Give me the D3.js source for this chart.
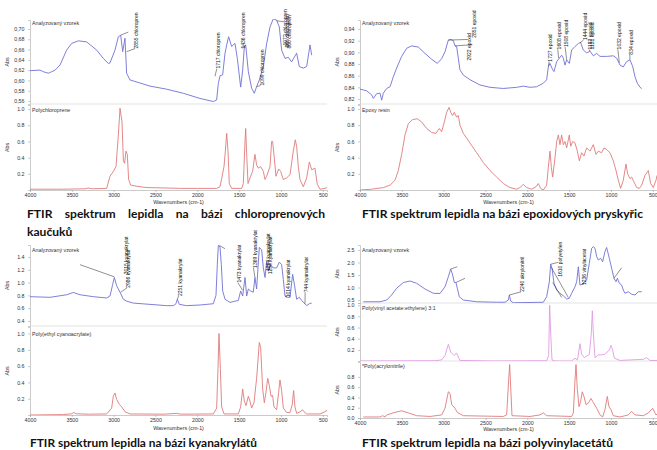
<!DOCTYPE html>
<html><head><meta charset="utf-8">
<script src="https://cdn.jsdelivr.net/npm/d3@7"></script>
<style>body{margin:0;background:#fff}svg{display:block}</style>
</head><body>
<script>
// ---------------- DATA ----------------
const wavenumberTicks = [4000,3500,3000,2500,2000,1500,1000,500];
const wavenumberLabels = ["4000","3500","3000","2500","2000","1500","1000","500"];

const titleSample = "Analyzovaný vzorek";
const refTitles = ["Polychloroprene","Epoxy resin","Poly(ethyl cyanoacrylate)","Poly(vinyl acetate:ethylene) 3:1","*Poly(acrylonitrile)"];
const captions = [
  "FTIR spektrum lepidla na bázi chloroprenových",
  "kaučuků",
  "FTIR spektrum lepidla na bázi epoxidových pryskyřic",
  "FTIR spektrum lepidla na bázi kyanakrylátů",
  "FTIR spektrum lepidla na bázi polyvinylacetátů"
];

const ticksP1Top = [0.70,0.68,0.66,0.64,0.62,0.60,0.58,0.56];
const labelsP1Top = ["0,70","0,68","0,66","0,64","0,62","0,60","0,58","0,56"];
const ticksP2Top = [0.94,0.92,0.90,0.88,0.86,0.84,0.82];
const labelsP2Top = ["0,94","0,92","0,90","0,88","0,86","0,84","0,82"];
const ticksP3Top = [1.4,1.2,1.0,0.8,0.6,0.4];
const labelsP3Top = ["1.4","1.2","1.0","0.8","0.6","0.4"];
const ticksP4Top = [2.5,2.0,1.5,1.0,0.5];
const labelsP4Top = ["2.5","2.0","1.5","1.0","0.5"];
const ticksUnit = [1.0,0.8,0.6,0.4,0.2];
const labelsUnit = ["1.0","0.8","0.6","0.4","0.2"];
const ticksUnit0 = [0.8,0.6,0.4,0.2,0.0];
const labelsUnit0 = ["0.8","0.6","0.4","0.2","0.0"];

// [wavenumber, absorbance]
const p1Sample = [[4000,0.619],[3880,0.620],[3841,0.617],[3781,0.614],[3741,0.617],[3701,0.620],[3641,0.630],[3562,0.659],[3502,0.672],[3422,0.677],[3323,0.675],[3203,0.659],[3124,0.643],[3064,0.633],[3044,0.634],[2984,0.659],[2944,0.685],[2916,0.688],[2892,0.656],[2865,0.682],[2845,0.614],[2805,0.601],[2566,0.589],[2367,0.583],[2167,0.575],[1968,0.565],[1809,0.559],[1769,0.562],[1749,0.594],[1729,0.609],[1697,0.611],[1669,0.653],[1649,0.669],[1626,0.685],[1590,0.666],[1550,0.672],[1522,0.643],[1482,0.587],[1458,0.62],[1438,0.666],[1422,0.669],[1390,0.617],[1351,0.585],[1319,0.575],[1291,0.588],[1259,0.601],[1211,0.627],[1171,0.672],[1131,0.704],[1092,0.72],[1052,0.717],[1020,0.704],[992,0.659],[952,0.643],[912,0.645],[873,0.636],[853,0.642],[813,0.653],[781,0.627],[733,0.624],[693,0.627],[653,0.669],[633,0.649]];
const p1Ref = [[4000,0.01],[3600,0.01],[3340,0.015],[3303,0.025],[3260,0.015],[3084,0.02],[3044,0.17],[3004,0.23],[2972,0.29],[2944,0.68],[2924,1.01],[2900,0.84],[2884,0.36],[2869,0.33],[2853,0.48],[2837,0.44],[2821,0.13],[2797,0.06],[2685,0.04],[2600,0.03],[2400,0.025],[2200,0.02],[2000,0.02],[1769,0.02],[1729,0.04],[1709,0.14],[1681,0.29],[1665,0.48],[1649,0.70],[1633,0.48],[1618,0.08],[1590,0.02],[1470,0.02],[1450,0.08],[1430,0.6],[1422,0.76],[1410,0.44],[1394,0.08],[1363,0.17],[1339,0.23],[1311,0.44],[1291,0.31],[1271,0.27],[1243,0.29],[1211,0.23],[1191,0.13],[1171,0.17],[1131,0.29],[1112,0.6],[1100,0.6],[1084,0.44],[1060,0.17],[1028,0.26],[1004,0.23],[972,0.13],[932,0.15],[892,0.19],[853,0.48],[829,0.62],[813,0.54],[793,0.29],[773,0.13],[733,0.04],[693,0.15],[661,0.345],[633,0.25],[594,0.27],[566,0.07],[534,0.01],[474,0.02],[450,0.03]];
const p2Sample = [[4000,0.837],[3920,0.834],[3861,0.827],[3841,0.821],[3801,0.829],[3761,0.830],[3741,0.818],[3721,0.830],[3681,0.838],[3641,0.841],[3602,0.858],[3562,0.873],[3502,0.893],[3442,0.907],[3382,0.911],[3303,0.909],[3223,0.898],[3143,0.888],[3076,0.881],[3024,0.889],[2984,0.901],[2944,0.921],[2916,0.922],[2884,0.920],[2865,0.911],[2845,0.910],[2825,0.890],[2805,0.870],[2765,0.861],[2685,0.853],[2566,0.844],[2446,0.840],[2287,0.838],[2128,0.840],[2048,0.842],[1968,0.840],[1889,0.841],[1809,0.847],[1769,0.853],[1749,0.875],[1729,0.881],[1697,0.870],[1681,0.867],[1649,0.884],[1618,0.890],[1590,0.895],[1570,0.890],[1550,0.878],[1530,0.887],[1498,0.881],[1470,0.904],[1430,0.910],[1390,0.915],[1363,0.917],[1331,0.904],[1291,0.899],[1251,0.902],[1211,0.894],[1171,0.898],[1131,0.893],[1052,0.893],[972,0.894],[932,0.890],[892,0.878],[853,0.875],[813,0.884],[773,0.887],[741,0.876],[713,0.858],[685,0.847],[653,0.840],[633,0.838]];
const p2Ref = [[4000,0.0],[3861,0.01],[3721,0.03],[3641,0.06],[3582,0.12],[3542,0.24],[3502,0.44],[3462,0.68],[3422,0.82],[3371,0.87],[3315,0.88],[3263,0.84],[3203,0.76],[3143,0.71],[3092,0.7],[3052,0.76],[3024,0.72],[2992,0.84],[2964,0.96],[2936,1.02],[2916,0.96],[2892,0.92],[2873,0.96],[2845,0.9],[2825,0.92],[2805,0.8],[2765,0.7],[2685,0.58],[2606,0.46],[2526,0.34],[2446,0.24],[2367,0.16],[2287,0.08],[2207,0.03],[2128,0.01],[2088,0.03],[2048,0.07],[2008,0.03],[1948,0.01],[1896,0.04],[1869,0.08],[1841,0.02],[1809,0.0],[1769,0.06],[1749,0.28],[1729,0.48],[1713,0.28],[1697,0.16],[1669,0.4],[1649,0.6],[1629,0.68],[1610,0.56],[1590,0.68],[1570,0.56],[1550,0.6],[1530,0.52],[1498,0.68],[1482,0.54],[1458,0.6],[1430,0.58],[1402,0.48],[1378,0.36],[1351,0.46],[1323,0.42],[1291,0.52],[1251,0.48],[1211,0.56],[1179,0.44],[1151,0.48],[1112,0.46],[1084,0.52],[1052,0.5],[1012,0.46],[972,0.36],[940,0.24],[912,0.12],[885,0.02],[853,0.12],[821,0.32],[801,0.2],[773,0.14],[753,0.16],[725,0.1],[693,0.03],[661,0.02],[633,0.06],[594,0.18],[554,0.24],[526,0.08],[494,0.03],[462,0.12],[450,0.18]];
const p3Sample = [[4000,0.78],[3761,0.77],[3562,0.81],[3482,0.846],[3402,0.81],[3243,0.78],[3084,0.76],[3044,0.79],[3012,0.97],[2992,1.08],[2964,0.95],[2924,0.85],[2884,0.74],[2845,0.71],[2765,0.68],[2566,0.66],[2367,0.64],[2287,0.64],[2255,0.67],[2239,0.74],[2215,0.66],[2128,0.64],[1968,0.65],[1809,0.67],[1777,0.8],[1761,1.28],[1749,1.58],[1729,1.56],[1713,1.28],[1697,0.87],[1669,0.74],[1610,0.69],[1550,0.71],[1510,0.72],[1482,0.87],[1458,0.79],[1430,1.08],[1410,0.79],[1390,0.9],[1363,0.87],[1331,0.85],[1311,1.08],[1291,0.9],[1259,1.55],[1231,1.51],[1211,1.23],[1191,1.08],[1171,1.33],[1151,1.18],[1123,1.28],[1092,1.23],[1052,1.23],[1020,1.32],[992,1.28],[972,1.05],[952,0.79],[924,0.77],[892,0.77],[861,1.13],[837,0.95],[813,0.74],[781,0.77],[753,0.72],[713,0.67],[693,0.64],[661,0.67],[633,0.68]];
const p3Ref = [[4000,0],[3600,0.005],[3502,0.015],[3482,0.03],[3442,0.015],[3300,0.01],[3084,0.013],[3024,0.085],[3004,0.23],[2984,0.27],[2964,0.19],[2932,0.13],[2904,0.1],[2865,0.04],[2805,0.013],[2400,0.01],[2247,0.02],[2200,0.01],[1809,0.013],[1769,0.085],[1753,0.57],[1741,1.0],[1725,0.57],[1709,0.1],[1681,0.013],[1510,0.013],[1482,0.1],[1458,0.32],[1438,0.17],[1418,0.115],[1390,0.23],[1371,0.17],[1351,0.085],[1323,0.15],[1291,0.45],[1259,0.89],[1243,0.83],[1219,0.32],[1199,0.15],[1179,0.28],[1159,0.45],[1139,0.36],[1119,0.23],[1100,0.24],[1084,0.1],[1052,0.064],[1028,0.28],[1012,0.43],[992,0.3],[972,0.085],[932,0.03],[892,0.03],[865,0.13],[849,0.3],[833,0.1],[813,0.02],[773,0.038],[741,0.064],[725,0.04],[693,0.013],[534,0.013],[474,0.04],[434,0.07]];
const p4Sample = [[3960,0.43],[3761,0.43],[3681,0.5],[3622,0.7],[3562,0.97],[3482,1.2],[3402,1.26],[3323,1.17],[3223,0.94],[3124,0.77],[3044,0.76],[2984,1.03],[2944,1.43],[2916,1.74],[2892,1.5],[2873,1.2],[2853,1.2],[2837,0.97],[2813,0.63],[2765,0.5],[2606,0.43],[2367,0.41],[2267,0.41],[2227,0.5],[2215,0.7],[2199,0.46],[2167,0.39],[1809,0.41],[1769,0.63],[1737,1.23],[1721,1.93],[1705,1.77],[1681,1.17],[1649,0.9],[1610,0.77],[1570,0.67],[1530,0.54],[1498,0.57],[1470,0.77],[1430,1.03],[1410,1.23],[1390,1.83],[1371,1.1],[1343,1.13],[1323,1.21],[1291,1.3],[1259,1.97],[1231,2.57],[1211,2.63],[1191,2.57],[1171,2.23],[1151,2.1],[1123,2.17],[1100,2.03],[1072,2.43],[1052,2.6],[1020,2.17],[992,1.77],[964,1.37],[940,1.23],[924,1.37],[900,1.17],[873,1.1],[853,0.9],[833,0.77],[793,0.83],[753,0.73],[713,0.7],[673,0.83],[633,0.83]];
const p4Mid = [[4000,0],[3100,0.005],[3024,0.02],[2984,0.1],[2944,0.3],[2916,0.16],[2876,0.1],[2845,0.14],[2805,0.01],[2400,0.0],[1769,0.005],[1745,0.1],[1733,1.0],[1721,0.5],[1705,0.02],[1669,0],[1470,0.0],[1430,0.05],[1400,0.02],[1371,0.31],[1351,0.12],[1319,0.06],[1259,0.12],[1235,0.5],[1223,0.9],[1211,0.5],[1191,0.06],[1151,0.11],[1112,0.11],[1072,0.12],[1020,0.2],[1000,0.28],[980,0.2],[960,0.05],[892,0.01],[614,0.03],[574,0.06],[534,0.01],[434,0.01]];
const p4Bot = [[3960,0.02],[3761,0.02],[3729,0.045],[3701,0.02],[3681,0.06],[3641,0.08],[3582,0.11],[3502,0.14],[3422,0.1],[3323,0.045],[3163,0.03],[3024,0.06],[2984,0.19],[2944,0.51],[2924,0.48],[2904,0.26],[2865,0.19],[2837,0.11],[2765,0.045],[2287,0.03],[2247,0.06],[2223,0.74],[2211,1.04],[2199,0.61],[2183,0.045],[1968,0.03],[1849,0.06],[1809,0.1],[1769,0.045],[1470,0.03],[1450,0.1],[1430,0.74],[1418,1.04],[1402,0.55],[1382,0.22],[1363,0.32],[1343,0.51],[1323,0.42],[1299,0.26],[1271,0.29],[1239,0.38],[1211,0.3],[1171,0.19],[1131,0.06],[1100,0.02],[1072,0.16],[1044,0.42],[1024,0.22],[1000,0.16],[972,0.045],[892,0.02],[793,0.06],[753,0.13],[713,0.06],[614,0.045],[554,0.1],[502,0.19],[462,0.06],[434,0.1]];

// annotations: [label, textWavenumber, textBottomAbs, pointWavenumber, pointAbs, leaderEndAbs]
const annP1 = [
  ["",2825,0.694,2916,0.688],
  ["2855 chloropren",2725,0.662,2845,0.656],
  ["1717 chloropren",1749,0.623,1789,0.608],
  ["1436 chloropren",1450,0.662,1422,0.669],
  ["1099 chloropren",1227,0.590,1291,0.588],
  ["1072 chloropren",944,0.668,1052,0.716,0.714],
  ["865 chloropren",920,0.664,null],
  ["860 chloropren",896,0.662,null]
];
const annP2 = [
  ["2922 epoxid",2693,0.886,2944,0.921,0.922],
  ["2851 epoxid",2640,0.925,2865,0.911,0.913],
  ["1727 epoxid",1721,0.884,1749,0.876],
  ["1608 epoxid",1618,0.905,1626,0.890],
  ["1508 epoxid",1530,0.909,1530,0.887],
  ["1444 epoxid",1311,0.921,1371,0.916],
  ["1183 epoxid",1243,0.905,1251,0.902],
  ["1131 epoxid",1219,0.905,null],
  ["1032 epoxid",900,0.905,900,0.882],
  ["834 epoxid",757,0.896,773,0.887]
];
const annP3 = [
  ["",3402,1.28,2992,1.09],
  ["3015 kyanakrylat",2853,1.13,null],
  ["2986 kyanakrylat",2821,0.92,2916,0.85],
  ["2251 kyanakrylat",2207,0.79,2239,0.74],
  ["",1669,1.53,1737,1.58],
  ["1473 kyanakrylat",1498,1.0,1458,0.88],
  ["1369 kyanakrylat",1311,1.23,1311,1.08],
  ["1264 kyanakrylat",1151,1.18,null],
  ["1254 kyanakrylat",1123,1.13,null],
  ["1014 kyanakrylat",912,0.77,952,0.79],
  ["744 kyanakrylat",693,0.85,713,0.67]
];
const annP4 = [
  ["",2837,1.83,2916,1.74],
  ["",2745,1.37,2853,1.20],
  ["2240 akrylonitril",2056,0.83,2215,0.70],
  ["",1629,2.01,1721,1.93],
  ["1610 polyetylen",1610,1.43,null],
  ["",1510,0.60,1713,1.80],
  ["",1590,0.60,1697,1.20],
  ["1236 vinylacetat",1319,1.10,1323,1.21],
  ["",873,1.79,964,1.37]
];

// ---------------- STYLE / LAYOUT ----------------
const BLUE = "#7171d6", RED = "#e07a7a", PINK = "#e39ae3";
const AXIS = "#a8a8a8", TXT = "#333";
const W = 657, H = 450;
const svg = d3.select("body").append("svg").attr("width", W).attr("height", H)
  .style("font-family", "'Liberation Sans', Arial, sans-serif");

const panels = [
  {x0:30, x1:327, wnDy:14, subs:[
    {y0:20, y1:104, dom:[0.5542,0.7175], ticks:ticksP1Top, labels:labelsP1Top, title:titleSample, tdy:5, data:p1Sample, color:BLUE, ann:annP1},
    {y0:105, y1:190, dom:[0,1.05], ticks:ticksUnit, labels:labelsUnit, title:refTitles[0], tdy:7, data:p1Ref, color:RED, ann:[]}
  ]},
  {x0:360, x1:657, wnDy:14, subs:[
    {y0:20, y1:104, dom:[0.8114,0.9554], ticks:ticksP2Top, labels:labelsP2Top, title:titleSample, tdy:5, data:p2Sample, color:BLUE, ann:annP2},
    {y0:105, y1:190, dom:[0,1.05], ticks:ticksUnit, labels:labelsUnit, title:refTitles[1], tdy:7, data:p2Ref, color:RED, ann:[]}
  ]},
  {x0:30, x1:327, wnDy:15, subs:[
    {y0:245, y1:326, dom:[0.322,1.5875], ticks:ticksP3Top, labels:labelsP3Top, title:titleSample, tdy:7, data:p3Sample, color:BLUE, ann:annP3},
    {y0:327, y1:415, dom:[0,1.08], ticks:ticksUnit, labels:labelsUnit, title:refTitles[2], tdy:9, data:p3Ref, color:RED, ann:[]}
  ]},
  {x0:360, x1:657, wnDy:12.5, subs:[
    {y0:245, y1:303, dom:[0.38,2.7], ticks:ticksP4Top, labels:labelsP4Top, title:titleSample, tdy:7, data:p4Sample, color:BLUE, ann:annP4},
    {y0:303, y1:361, dom:[0,1.04], ticks:ticksUnit, labels:labelsUnit, title:refTitles[3], tdy:7, data:p4Mid, color:PINK, ann:[]},
    {y0:362, y1:418, dom:[0,1.09], ticks:ticksUnit0, labels:labelsUnit0, title:refTitles[4], tdy:6, data:p4Bot, color:RED, ann:[]}
  ]}
];

let clipId = 0;
panels.forEach(p => {
  const x = d3.scaleLinear().domain([4000, 450]).range([p.x0, p.x1]);
  p.subs.forEach((s, i) => {
    const y = d3.scaleLinear().domain(s.dom).range([s.y1, s.y0]);
    const g = svg.append("g");
    const last = i === p.subs.length - 1;
    // y axis
    const ya = g.append("g").attr("transform", `translate(${p.x0},0)`)
      .call(d3.axisLeft(y).tickValues(s.ticks).tickFormat((d, k) => s.labels[k]).tickSize(2).tickPadding(3.5));
    ya.selectAll("path,line").attr("stroke", AXIS).attr("stroke-width", 0.6);
    ya.selectAll("text").attr("font-size", 5.3).attr("fill", TXT).attr("font-family", "'Liberation Sans', Arial, sans-serif");
    // bottom line / x axis
    if (last) {
      const xa = g.append("g").attr("transform", `translate(0,${s.y1})`)
        .call(d3.axisBottom(x).tickValues(wavenumberTicks).tickFormat((d, k) => wavenumberLabels[k]).tickSize(2).tickPadding(1.5));
      xa.selectAll("path,line").attr("stroke", AXIS).attr("stroke-width", 0.6);
      xa.selectAll("text").attr("font-size", 5.3).attr("fill", TXT).attr("font-family", "'Liberation Sans', Arial, sans-serif");
      g.append("text").attr("x", (p.x0 + p.x1) / 2).attr("y", s.y1 + p.wnDy)
        .attr("text-anchor", "middle").attr("font-size", 5.3).attr("fill", TXT).text("Wavenumbers (cm-1)");
    } else {
      g.append("line").attr("x1", p.x0).attr("x2", p.x1).attr("y1", s.y1).attr("y2", s.y1)
        .attr("stroke", "#d0d0d0").attr("stroke-width", 0.6);
    }
    // Abs label
    g.append("text").attr("transform", `translate(${p.x0 - 21},${(s.y0 + s.y1) / 2}) rotate(-90)`)
      .attr("text-anchor", "middle").attr("font-size", 5.3).attr("fill", TXT).text("Abs");
    // clip
    const id = "c" + (clipId++);
    svg.append("clipPath").attr("id", id).append("rect")
      .attr("x", p.x0).attr("y", s.y0 - 1).attr("width", p.x1 - p.x0).attr("height", s.y1 - s.y0 + 1);
    // spectrum
    g.append("path").datum(s.data).attr("clip-path", `url(#${id})`)
      .attr("fill", "none").attr("stroke", s.color).attr("stroke-width", 0.9).attr("stroke-linejoin", "round")
      .attr("d", d3.line().x(d => x(d[0])).y(d => y(d[1])));
    // title
    g.append("text").attr("x", p.x0 + 2).attr("y", s.y0 + s.tdy)
      .attr("font-size", 5.3).attr("fill", TXT).text(s.title);
    // annotations
    s.ann.forEach(a => {
      const tx = x(a[1]), ty = y(a[2]);
      if (a[3] != null) {
        const le = a[5] != null ? y(a[5]) : ty;
        g.append("line").attr("x1", x(a[3])).attr("y1", y(a[4])).attr("x2", tx - (a[0] ? 1.5 : 0)).attr("y2", le)
          .attr("stroke", "#222").attr("stroke-width", 0.5);
      }
      if (a[0]) {
        g.append("text").attr("transform", `translate(${tx},${ty}) rotate(-90)`)
          .attr("dy", "0.35em").attr("font-size", 5).attr("fill", "#111").text(a[0]);
      }
    });
  });
});

// ---------------- CAPTIONS ----------------
const capFont = "Lato, 'Open Sans', sans-serif";
function capText(txt, x, y) {
  return svg.append("text").attr("x", x).attr("y", y).attr("font-family", capFont)
    .attr("font-weight", 700).attr("font-size", 11.8).attr("fill", "#111").text(txt);
}
function fitCap(txt, x, y, w) {
  const t = capText(txt, x, y);
  const nat = t.node().getComputedTextLength();
  t.attr("textLength", w).attr("lengthAdjust", "spacingAndGlyphs");
  return w / nat;
}
const k = fitCap(captions[2], 362, 218, 281);
fitCap(captions[3], 30, 447, 227);
fitCap(captions[4], 362, 447, 251);
// justified first caption
(function () {
  const words = captions[0].split(" ");
  const nodes = words.map(wd => capText(wd, 0, 218));
  const widths = nodes.map(n => n.node().getComputedTextLength() * k);
  const total = widths.reduce((a, b) => a + b, 0);
  const left = 27, right = 325;
  const gap = (right - left - total) / (words.length - 1);
  let cx = left;
  nodes.forEach((n, i) => {
    n.attr("x", cx).attr("textLength", widths[i]).attr("lengthAdjust", "spacingAndGlyphs");
    cx += widths[i] + gap;
  });
  const t2 = capText(captions[1], 27, 236);
  t2.attr("textLength", t2.node().getComputedTextLength() * k).attr("lengthAdjust", "spacingAndGlyphs");
})();
</script>
</body></html>
